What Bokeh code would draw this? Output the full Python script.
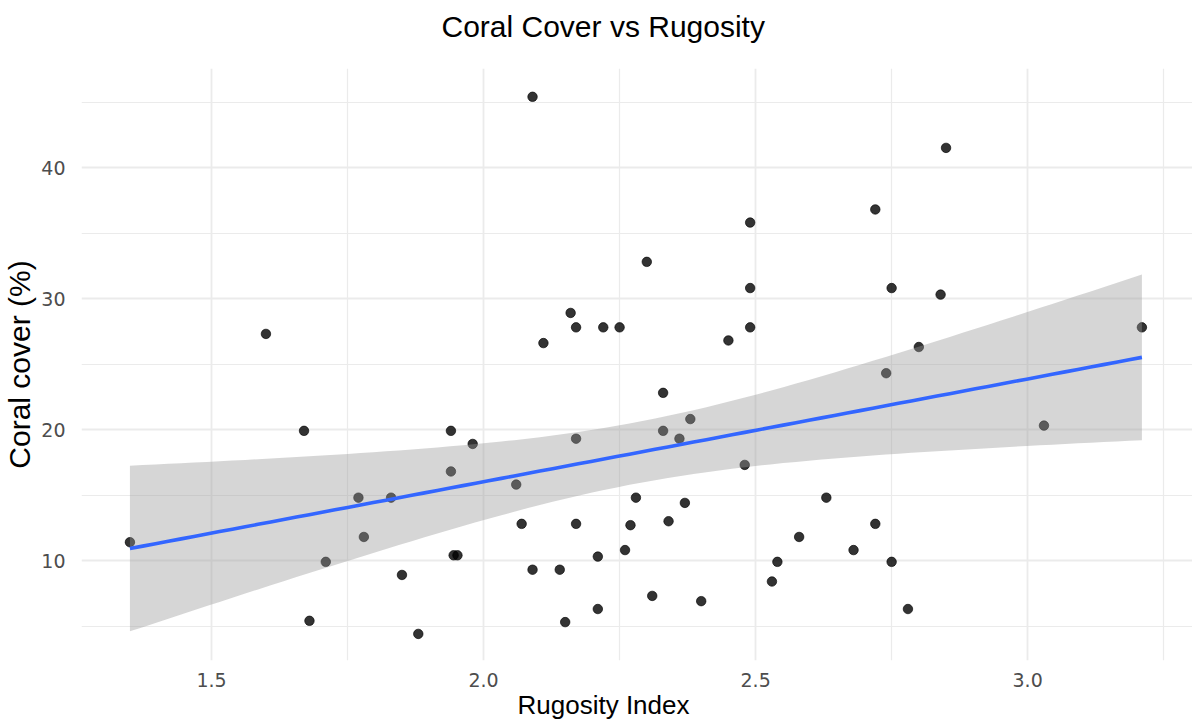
import numpy as np
from bokeh.plotting import figure
from bokeh.models import FixedTicker, Range1d, Title, PrintfTickFormatter
from bokeh.embed import file_html
from bokeh.resources import INLINE

# Data
rugosity = [1.35, 1.60, 1.67, 1.68, 1.71, 1.77, 1.78, 1.83, 1.85, 1.88,
            1.94, 1.94, 1.945, 1.952, 1.98, 2.06, 2.07, 2.09, 2.09, 2.11,
            2.14, 2.15, 2.16, 2.17, 2.17, 2.17, 2.21, 2.21, 2.22, 2.25,
            2.26, 2.27, 2.28, 2.30, 2.31, 2.33, 2.33, 2.34, 2.36, 2.37,
            2.38, 2.40, 2.45, 2.48, 2.49, 2.49, 2.49, 2.53, 2.54, 2.58,
            2.63, 2.68, 2.72, 2.72, 2.74, 2.75, 2.75, 2.78, 2.80, 2.84,
            2.85, 3.03, 3.21]
coral_cover = [11.4, 27.3, 19.9, 5.4, 9.9, 14.8, 11.8, 14.8, 8.9, 4.4,
               16.8, 19.9, 10.4, 10.4, 18.9, 15.8, 12.8, 9.3, 45.4, 26.6,
               9.3, 5.3, 28.9, 27.8, 19.3, 12.8, 10.3, 6.3, 27.8, 27.8,
               10.8, 12.7, 14.8, 32.8, 7.3, 22.8, 19.9, 13.0, 19.3, 14.4,
               20.8, 6.9, 26.8, 17.3, 35.8, 30.8, 27.8, 8.4, 9.9, 11.8,
               14.8, 10.8, 36.8, 12.8, 24.3, 30.8, 9.9, 6.3, 26.3, 30.3,
               41.5, 20.3, 27.8]

x_major = [1.5, 2.0, 2.5, 3.0]
x_minor = [1.25, 1.75, 2.25, 2.75, 3.25]
y_major = [10, 20, 30, 40]
y_minor = [5, 15, 25, 35, 45]

title_text = "Coral Cover vs Rugosity"
x_title = "Rugosity Index"
y_title = "Coral cover (%)"

# Linear model fit with 95% confidence band (geom_smooth(method = "lm"))
x = np.array(rugosity)
y = np.array(coral_cover)
n = len(x)
slope, intercept = np.polyfit(x, y, 1)
resid = y - (intercept + slope * x)
s = np.sqrt((resid ** 2).sum() / (n - 2))
xbar = x.mean()
sxx = ((x - xbar) ** 2).sum()
xs = np.linspace(x.min(), x.max(), 80)
fit = intercept + slope * xs
se = s * np.sqrt(1.0 / n + (xs - xbar) ** 2 / sxx)
T975 = 2.0  # t quantile for ~61 df
lower = fit - T975 * se
upper = fit + T975 * se

p = figure(width=1192, height=722, output_backend="svg", toolbar_location=None,
           x_range=Range1d(1.261, 3.303), y_range=Range1d(2.37, 47.56),
           min_border_left=81, min_border_right=0, min_border_top=68,
           min_border_bottom=62)
p.outline_line_color = None
p.background_fill_color = "white"
p.border_fill_color = "white"

for ax, maj, mnr in ((p.xaxis[0], x_major, x_minor), (p.yaxis[0], y_major, y_minor)):
    ax.ticker = FixedTicker(ticks=maj, minor_ticks=mnr)
    ax.axis_line_color = None
    ax.major_tick_line_color = None
    ax.minor_tick_line_color = None
    ax.major_tick_out = 0
    ax.major_tick_in = 0
    ax.major_label_text_font = "DejaVu Sans"
    ax.major_label_text_font_size = "19px"
    ax.major_label_text_color = "#4D4D4D"

p.xaxis[0].formatter = PrintfTickFormatter(format="%.1f")
p.xaxis.major_label_standoff = 8
p.yaxis.major_label_standoff = 12
p.yaxis.axis_label = y_title
p.yaxis.axis_label_text_font = "Liberation Sans"
p.yaxis.axis_label_text_font_size = "30px"
p.yaxis.axis_label_text_font_style = "normal"
p.yaxis.axis_label_text_color = "black"
p.yaxis.axis_label_standoff = 2

for g in (p.xgrid[0], p.ygrid[0]):
    g.grid_line_color = "#EBEBEB"
    g.grid_line_width = 1.8
    g.minor_grid_line_color = "#EBEBEB"
    g.minor_grid_line_width = 1.2

p.scatter(rugosity, coral_cover, size=9.5, fill_color="black", fill_alpha=0.8,
          line_color="black", line_alpha=0.8, line_width=0.8)
p.varea(x=xs, y1=lower, y2=upper, fill_color="#999999", fill_alpha=0.4)
p.line(xs, fit, line_color="#3366FF", line_width=3.6)

# spacer between the frame and the title, then the title itself
p.add_layout(Title(text=" ", standoff=11, text_font_size="10px"), "above")
p.add_layout(Title(text=title_text, align="left", offset=360, vertical_align="top",
                   standoff=0, text_font="Liberation Sans", text_font_size="30px",
                   text_font_style="normal", text_color="black"), "above")
p.add_layout(Title(text=x_title, align="left", offset=436, vertical_align="top",
                   standoff=0, text_font="Liberation Sans", text_font_size="26px",
                   text_font_style="normal", text_color="black"), "below")

open("out.html", "w").write(file_html(p, INLINE))
